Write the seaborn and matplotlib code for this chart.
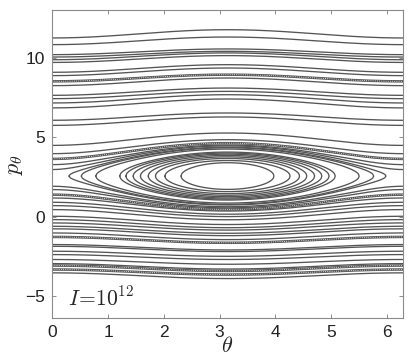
import numpy as np
import matplotlib
matplotlib.use("Agg")
import matplotlib.pyplot as plt
import seaborn as sns

# island centre (p at theta = pi) and the closed orbits: tip angle, half height at theta = pi
ISLAND_P = 2.55
ISLAND_TIP = [0.30, 0.52, 0.78, 1.21, 1.32, 1.45, 1.58, 1.72, 1.85, 2.02, 2.31]
ISLAND_HALF = [1.82, 1.78, 1.70, 1.51, 1.45, 1.38, 1.30, 1.21, 1.11, 0.98, 0.84]

# open orbits: p at theta = 0 (edge) and at theta = pi (middle)
UPPER_EDGE = [2.96, 3.27, 3.63, 3.96, 4.48, 5.74, 6.06, 6.84, 7.15, 7.42, 7.63,
              8.24, 8.51, 8.87, 9.08, 9.70, 9.87, 10.04, 10.19, 10.82, 11.24]
UPPER_MID = [4.45, 4.50, 4.62, 4.84, 5.26, 6.27, 6.52, 7.40, 7.67, 7.88, 8.09,
             8.72, 8.93, 9.35, 9.56, 10.13, 10.30, 10.40, 10.55, 11.30, 11.76]
UPPER_DOTTED = [3.63, 8.51]

LOWER_EDGE = [1.91, 1.70, 1.38, 1.17, 0.90, 0.69, 0.44, 0.02, -0.19, -0.40, -0.61, -0.77,
              -1.03, -1.28, -1.76, -1.87, -2.18, -2.39, -2.70, -2.96, -3.08, -3.33, -3.54]
LOWER_MID = [0.62, 0.55, 0.45, 0.35, 0.15, 0.00, -0.20, -0.50, -0.70, -0.85, -1.05, -1.20,
             -1.45, -1.65, -2.10, -2.20, -2.50, -2.70, -3.00, -3.30, -3.42, -3.65, -3.90]
LOWER_DOTTED = [1.38, -1.28, -3.08, -3.33]

LINE = "#555555"

sns.set_style("ticks")
plt.rcParams["mathtext.fontset"] = "cm"
plt.rcParams["font.family"] = ["Liberation Sans", "DejaVu Sans"]

fig = plt.figure(figsize=(4.07, 3.61), dpi=100)
ax = fig.add_axes([0.1285, 0.1183, 0.8609, 0.8540])

theta = np.linspace(0, 2 * np.pi, 400)


def draw(x, y, dotted):
    if dotted:
        sns.lineplot(x=x, y=y, ax=ax, sort=False, estimator=None, color=LINE, lw=1.8)
        ax.plot(x, y, color="white", lw=0.6, ls=(0, (1.0, 1.6)))
    else:
        sns.lineplot(x=x, y=y, ax=ax, sort=False, estimator=None, color=LINE, lw=0.95)


for edge, mid in zip(UPPER_EDGE + LOWER_EDGE, UPPER_MID + LOWER_MID):
    d0, d1 = edge - ISLAND_P, mid - ISLAND_P
    d = np.sign(d0) * np.sqrt(d0 ** 2 + (d1 ** 2 - d0 ** 2) * (1 - np.cos(theta)) / 2)
    draw(theta, ISLAND_P + d, edge in UPPER_DOTTED + LOWER_DOTTED)

for tip, half in zip(ISLAND_TIP, ISLAND_HALF):
    t = np.linspace(tip, 2 * np.pi - tip, 300)
    r = half * np.sqrt(np.clip((np.cos(tip) - np.cos(t)) / (1 + np.cos(tip)), 0, None))
    x = np.concatenate([t, t[::-1]])
    y = np.concatenate([ISLAND_P + r, ISLAND_P - r[::-1]])
    draw(x, y, False)

ax.set_xlim(0, 2 * np.pi)
ax.set_ylim(-6.4, 13.0)
ax.set_xticks(range(7))
ax.set_yticks([-5, 0, 5, 10])
ax.tick_params(direction="in", top=True, right=True, length=3, width=0.6,
               color="#777777", labelsize=12.5, labelcolor="#222222", pad=5)
for s in ax.spines.values():
    s.set_visible(True)
    s.set_color("#8a8a8a")
    s.set_linewidth(0.8)
ax.set_xlabel(r"$\theta$", fontsize=16, labelpad=-3)
ax.set_ylabel(r"$p_\theta$", fontsize=16, labelpad=0)
ax.text(0.28, -5.6, r"$I\!=\!10^{12}$", fontsize=15.5)

fig.savefig("out.png", dpi=100)
